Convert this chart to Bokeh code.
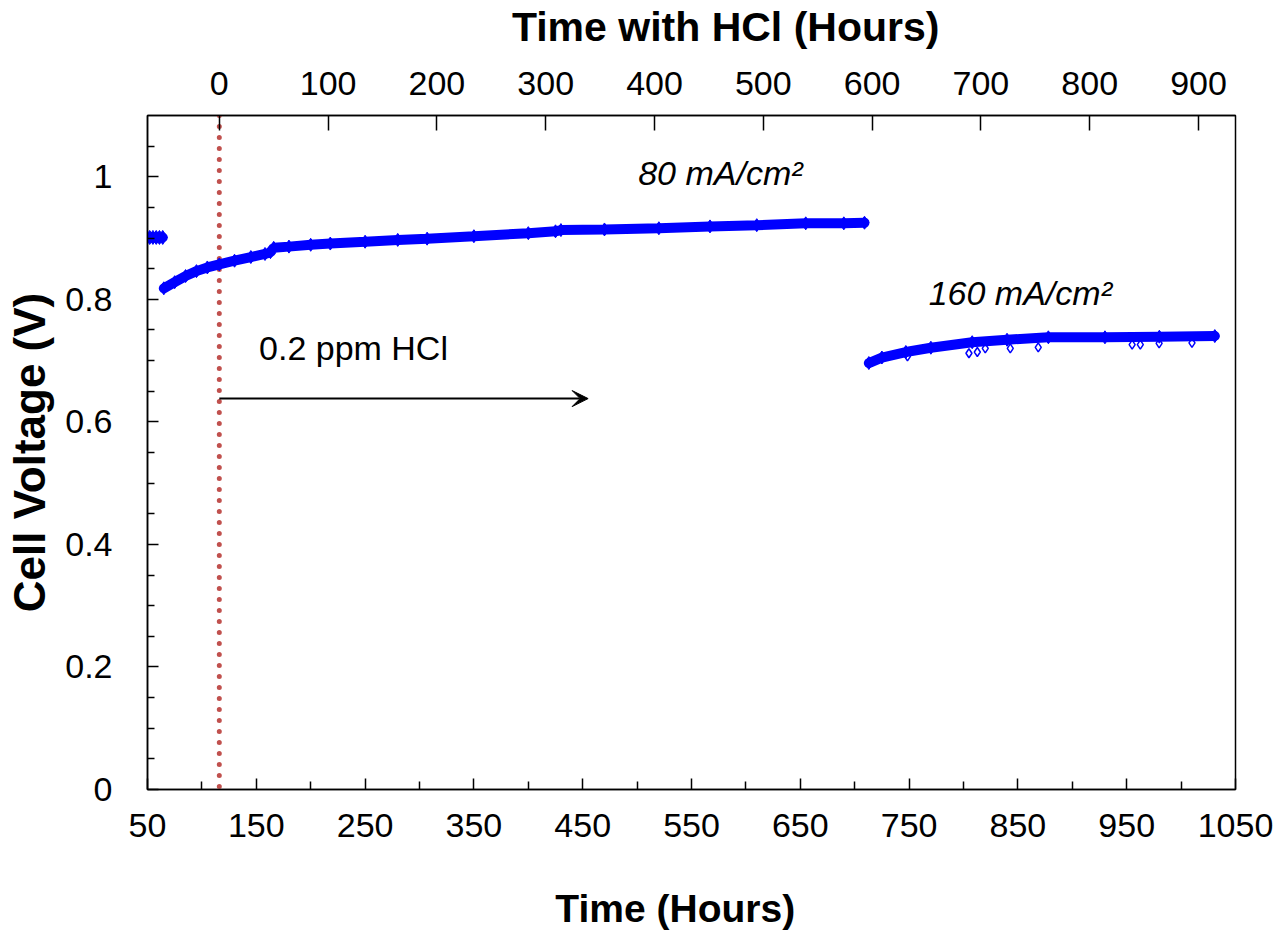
from bokeh.plotting import figure
from bokeh.models import (Range1d, LinearAxis, FixedTicker, Span, Arrow, VeeHead, Label)
from bokeh.embed import file_html
from bokeh.resources import INLINE

# ---- data ----
pre_time = [52, 55, 58, 61, 64]
pre_volt = [0.901, 0.901, 0.901, 0.901, 0.901]

seg80_time = [65, 75, 85, 95, 105, 116, 130, 145, 158, 163, 166, 180, 200, 218, 250,
              280, 307, 350, 400, 425, 430, 470, 520, 567, 610, 655, 690, 709]
seg80_volt = [0.818, 0.828, 0.838, 0.846, 0.852, 0.857, 0.863, 0.869, 0.874, 0.877,
              0.884, 0.886, 0.889, 0.891, 0.894, 0.897, 0.899, 0.903, 0.908, 0.911,
              0.913, 0.914, 0.916, 0.919, 0.921, 0.924, 0.924, 0.925]

seg160_time = [713, 725, 747, 770, 808, 840, 878, 930, 980, 1031]
seg160_volt = [0.696, 0.705, 0.714, 0.721, 0.730, 0.734, 0.738, 0.738, 0.739, 0.740]

out_time = [748.5, 805, 812.7, 820, 843, 868.7, 955, 962.5, 979.8, 1010]
out_volt = [0.707, 0.712, 0.714, 0.720, 0.720, 0.7215, 0.726, 0.726, 0.728, 0.729]

hcl_start = 116           # bottom-axis hour at which HCl starts (top axis 0)
arrow_end = 455
arrow_v = 0.638

x_major = [50, 150, 250, 350, 450, 550, 650, 750, 850, 950, 1050]
x_minor = [100, 200, 300, 400, 500, 600, 700, 800, 900, 1000]
top_major = [0, 100, 200, 300, 400, 500, 600, 700, 800, 900]
y_major = [0, 0.2, 0.4, 0.6, 0.8, 1]
y_minor = [0.05, 0.1, 0.15, 0.25, 0.3, 0.35, 0.45, 0.5, 0.55, 0.65, 0.7, 0.75,
           0.85, 0.9, 0.95, 1.05]

FONT = "Liberation Sans"
BLUE = "#0000FF"
NB = "\u00a0"

p = figure(width=1280, height=932, output_backend="svg", toolbar_location=None,
           x_range=Range1d(50, 1050), y_range=Range1d(0, 1.1),
           min_border_left=147, min_border_right=45, min_border_top=114,
           min_border_bottom=141)
p.background_fill_color = "white"
p.border_fill_color = "white"
p.outline_line_color = "black"
p.outline_line_width = 1.5
p.grid.visible = False

xa = p.xaxis[0]
xa.ticker = FixedTicker(ticks=x_major, minor_ticks=x_minor)
# trailing no-break spaces shift the centred title a little left, as in the reference
xa.axis_label = "Time (Hours)" + NB * 3
ya = p.yaxis[0]
ya.ticker = FixedTicker(ticks=y_major, minor_ticks=y_minor)
ya.major_label_overrides = {0: "0", 1: "1"}
ya.axis_label = "Cell Voltage (V)"

p.extra_x_ranges = {"top": Range1d(50 - hcl_start, 1050 - hcl_start)}
ta = LinearAxis(x_range_name="top", ticker=FixedTicker(ticks=top_major, minor_ticks=[]),
                axis_label=NB * 6 + "Time with HCl (Hours)")
p.add_layout(ta, "above")

for ax in (xa, ya, ta):
    ax.axis_line_color = "black"
    ax.axis_line_width = 1.5
    ax.major_tick_line_color = "black"
    ax.major_tick_line_width = 1.5
    ax.minor_tick_line_color = "black"
    ax.minor_tick_line_width = 1.5
    ax.major_tick_out = 0
    ax.minor_tick_out = 0
    ax.major_label_text_font = FONT
    ax.major_label_text_font_size = "34px"
    ax.major_label_text_color = "black"
    ax.axis_label_text_font = FONT
    ax.axis_label_text_font_style = "bold"
    ax.axis_label_text_color = "black"

xa.major_tick_in = 11
xa.minor_tick_in = 8
xa.major_label_standoff = 24
xa.axis_label_text_font_size = "39px"
xa.axis_label_standoff = 47

ya.major_tick_in = 11
ya.minor_tick_in = 7
ya.major_label_standoff = 35
ya.axis_label_text_font_size = "44px"
ya.axis_label_standoff = 8

ta.major_tick_in = 15
ta.minor_tick_in = 0
ta.major_label_standoff = 21
ta.axis_label_text_font_size = "41px"
ta.axis_label_standoff = 19

# HCl start dotted line
p.add_layout(Span(location=hcl_start, dimension="height", line_color="#C0504D",
                  line_width=5, line_dash="0 11", line_cap="round", level="underlay"))

# data
p.line(pre_time, pre_volt, line_color=BLUE, line_width=10, line_cap="round")
p.scatter(pre_time, pre_volt, marker="diamond", size=14, color=BLUE)
p.line(seg80_time, seg80_volt, line_color=BLUE, line_width=10, line_cap="round")
p.scatter(seg80_time, seg80_volt, marker="diamond", size=13, color=BLUE)
p.line(seg160_time, seg160_volt, line_color=BLUE, line_width=10, line_cap="round")
p.scatter(seg160_time, seg160_volt, marker="diamond", size=13, color=BLUE)
p.scatter(out_time, out_volt, marker="diamond", size=9, line_color=BLUE,
          fill_color=None, line_width=1.5)

# arrow + labels
p.add_layout(Arrow(x_start=hcl_start, y_start=arrow_v, x_end=arrow_end, y_end=arrow_v,
                   line_color="black", line_width=2,
                   end=VeeHead(size=16, fill_color="black", line_color="black")))
p.add_layout(Label(x=152.5, y=0.689, text="0.2 ppm HCl", text_font=FONT,
                   text_font_size="34px", text_color="black"))
p.add_layout(Label(x=501, y=0.9745, text="80 mA/cm²", text_font=FONT,
                   text_font_size="34px", text_font_style="italic", text_color="black"))
p.add_layout(Label(x=768, y=0.78, text="160 mA/cm²", text_font=FONT,
                   text_font_size="34px", text_font_style="italic", text_color="black"))

open("out.html", "w").write(file_html(p, INLINE))
